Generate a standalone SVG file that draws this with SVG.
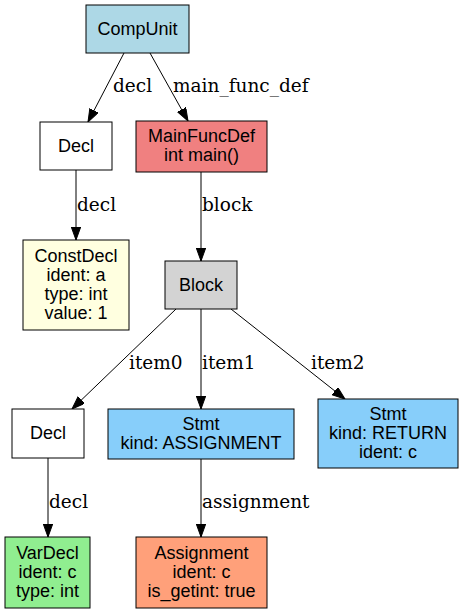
<svg xmlns="http://www.w3.org/2000/svg" width="463" height="613" viewBox="0 0 463 613">
<defs>
<marker id="arr" markerUnits="userSpaceOnUse" markerWidth="14" markerHeight="10" refX="13" refY="4.7" orient="auto">
<path d="M0,0 L13,4.7 L0,9.4 z" fill="#000" stroke="#000" stroke-width="1"/>
</marker>
<style>
.n rect{stroke:#000;stroke-width:1}
.n text{font-family:"Liberation Sans",Arial,sans-serif;font-size:18px;fill:#000;text-anchor:middle}
.e line{stroke:#000;stroke-width:1;marker-end:url(#arr)}
.e text{font-family:"DejaVu Serif",serif;font-size:18.5px;fill:#000}
</style>
</defs>
<rect width="463" height="613" fill="#fff"/>
<g id="edges" class="e">
<line x1="124" y1="53" x2="88" y2="122"/>
<line x1="150" y1="53" x2="188" y2="121"/>
<line x1="76" y1="170" x2="76" y2="240"/>
<line x1="201" y1="172" x2="201" y2="261"/>
<line x1="176" y1="309" x2="72" y2="409"/>
<line x1="201" y1="309" x2="201" y2="409"/>
<line x1="231" y1="309" x2="345" y2="399"/>
<line x1="48" y1="458" x2="48" y2="537"/>
<line x1="201" y1="459" x2="201" y2="537"/>
<text x="113" y="92">decl</text>
<text x="173" y="92">main_func_def</text>
<text x="77" y="211">decl</text>
<text x="202" y="211">block</text>
<text x="129" y="369">item0</text>
<text x="202" y="369">item1</text>
<text x="311" y="369">item2</text>
<text x="49" y="508">decl</text>
<text x="202" y="508">assignment</text>
</g>
<g id="CompUnit" class="n"><rect x="86" y="5" width="103" height="48" fill="#add8e6"/><text x="137.5" y="35">CompUnit</text></g>
<g id="Decl1" class="n"><rect x="40" y="122" width="72" height="48" fill="#fff"/><text x="76" y="152">Decl</text></g>
<g id="MainFuncDef" class="n"><rect x="136" y="121" width="131" height="51" fill="#f08080"/><text x="201.5" y="142">MainFuncDef</text><text x="201.5" y="161">int main()</text></g>
<g id="ConstDecl" class="n"><rect x="23" y="240" width="106" height="90" fill="#ffffe0"/><text x="76" y="262">ConstDecl</text><text x="76" y="281">ident: a</text><text x="76" y="300">type: int</text><text x="76" y="319">value: 1</text></g>
<g id="Block" class="n"><rect x="165" y="261" width="72" height="48" fill="#d3d3d3"/><text x="201" y="291">Block</text></g>
<g id="Decl2" class="n"><rect x="12" y="409" width="72" height="49" fill="#fff"/><text x="48" y="439">Decl</text></g>
<g id="Stmt1" class="n"><rect x="108" y="409" width="186" height="50" fill="#87cefa"/><text x="201" y="430">Stmt</text><text x="201" y="449">kind: ASSIGNMENT</text></g>
<g id="Stmt2" class="n"><rect x="318" y="399" width="140" height="69" fill="#87cefa"/><text x="388" y="420">Stmt</text><text x="388" y="439">kind: RETURN</text><text x="388" y="458">ident: c</text></g>
<g id="VarDecl" class="n"><rect x="5" y="537" width="85" height="71" fill="#90ee90"/><text x="47.5" y="559">VarDecl</text><text x="47.5" y="578">ident: c</text><text x="47.5" y="597">type: int</text></g>
<g id="Assignment" class="n"><rect x="136" y="537" width="131" height="71" fill="#ffa07a"/><text x="201.5" y="559">Assignment</text><text x="201.5" y="578">ident: c</text><text x="201.5" y="597">is_getint: true</text></g>
</svg>
